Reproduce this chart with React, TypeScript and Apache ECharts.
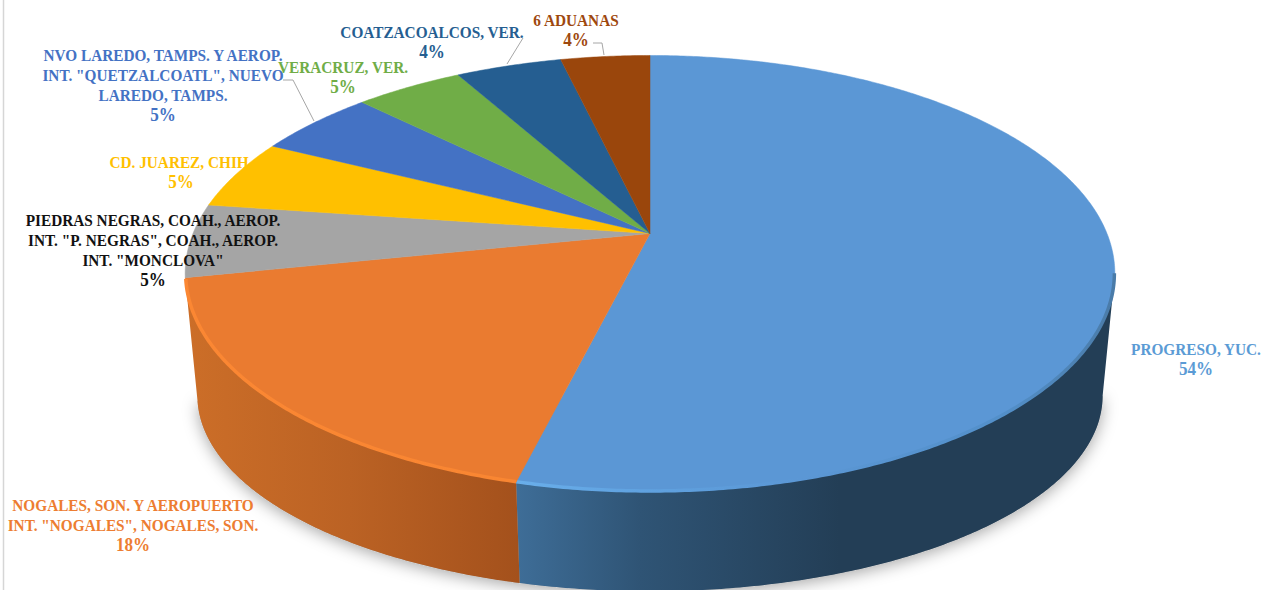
import React, { useEffect, useRef } from "react";
import * as echarts from "echarts";

const categories = [
  "PROGRESO, YUC.",
  'NOGALES, SON. Y AEROPUERTO\nINT. "NOGALES", NOGALES, SON.',
  'PIEDRAS NEGRAS, COAH., AEROP.\nINT. "P. NEGRAS", COAH., AEROP.\nINT. "MONCLOVA"',
  "CD. JUAREZ, CHIH.",
  'NVO LAREDO, TAMPS. Y AEROP.\nINT. "QUETZALCOATL", NUEVO\nLAREDO, TAMPS.',
  "VERACRUZ, VER.",
  "COATZACOALCOS, VER.",
  "6 ADUANAS",
];
const shares = [53.9, 17.9, 5.45, 5.2, 5.0, 4.5, 4.4, 3.7];
const sliceColors = ["#5b97d5", "#ea7b30", "#a5a5a5", "#ffc000", "#4472c4", "#70ad47", "#255e91", "#9a460c"];
const labelColors = ["#5b9bd5", "#ed7d31", "#111111", "#ffc000", "#4472c4", "#70ad47", "#255e91", "#9e480e"];

// centre x and first-line y of each label block
const labelAnchors = [
  [1196, 349], [133, 505], [153, 220], [181, 162], [163, 55], [343, 67], [432, 32], [576, 20],
];
const leaders: Record<number, number[][]> = {
  4: [[283, 80], [293, 80], [314, 121]],
  6: [[523, 38], [507, 64]],
  7: [[593, 43], [602, 43], [604, 55]],
};

const CX = 650;
const TOP = { a: 457, b: 210.6, cy: 233.5 };
const BOTTOM = { a: 445, b: 189, cy: 360 };
const K = 0.183;
const LINE = 20;
const FONT = '700 17px "Liberation Serif", serif';
const PCT_FONT = '700 19px "Liberation Serif", serif';
const TEXT_SQUEEZE = 0.9;
const total = shares.reduce((s, v) => s + v, 0);

type Disc = { a: number; b: number; cy: number };
const project = (deg: number, d: Disc, r = 1): number[] => {
  const t = (deg * Math.PI) / 180;
  const u = Math.sin(t) * r;
  const v = -Math.cos(t) * r;
  const w = 1 - K * v;
  return [CX + (d.a * u) / w, d.cy + (d.b * v) / w];
};
const arc = (s: number, e: number, d: Disc, r = 1): number[][] => {
  const n = Math.max(2, Math.ceil(Math.abs(e - s) * 2));
  const pts: number[][] = [];
  for (let i = 0; i <= n; i++) pts.push(project(s + ((e - s) * i) / n, d, r));
  return pts;
};
const range = (i: number) => {
  const before = shares.slice(0, i).reduce((s, v) => s + v, 0);
  return [(before / total) * 360, ((before + shares[i]) / total) * 360];
};
const grad = (stops: [number, string][], x0 = 186, x1 = 1115) =>
  new echarts.graphic.LinearGradient(
    x0, 0, x1, 0,
    stops.map(([x, color]) => ({ offset: (x - x0) / (x1 - x0), color })),
    true
  );

const VIS_START = 100.5;
const VIS_END = 258;

const sideFill = [
  grad([[518, "#3e6d97"], [640, "#2f5475"], [840, "#233e56"], [1115, "#233e56"]]),
  grad([[186, "#cc6e28"], [350, "#bb6224"], [518, "#a4511c"]]),
];
const rimStroke = [
  grad([[518, "#69aeea"], [640, "#60a2e0"], [800, "#5b97d5"], [1000, "#5390ca"], [1115, "#4a7ba8"]]),
  grad([[186, "#fb8733"], [518, "#f98632"]]),
];

export default function App() {
  const ref = useRef<HTMLDivElement>(null);
  useEffect(() => {
    document.body.style.margin = "0";
    const chart = echarts.init(ref.current!, undefined, { renderer: "svg" });
    const data = shares.map((v) => [v]);
    chart.setOption({
      animation: false,
      backgroundColor: "#ffffff",
      graphic: [
        {
          type: "line",
          shape: { x1: 3.5, y1: 0, x2: 3.5, y2: 590 },
          style: { stroke: "#d6d6d6", lineWidth: 1.5 },
          silent: true,
        },
      ],
      series: [
        {
          type: "custom",
          name: "shadow",
          coordinateSystem: "none",
          silent: true,
          clip: false,
          data: [[total]],
          renderItem: () => ({
            type: "polygon",
            shape: { points: arc(VIS_START, VIS_END, BOTTOM) },
            style: {
              fill: "#aaaaaa",
              shadowBlur: 16,
              shadowColor: "rgba(0,0,0,0.35)",
              shadowOffsetY: 3,
            },
          }),
        },
        {
          type: "custom",
          name: "sides",
          coordinateSystem: "none",
          silent: true,
          clip: false,
          data,
          renderItem: (p: any) => {
            const [s, e] = range(p.dataIndex);
            const from = Math.max(s, VIS_START);
            const to = Math.min(e, VIS_END);
            if (to <= from) return null;
            return {
              type: "polygon",
              shape: { points: [...arc(from, to, TOP), ...arc(to, from, BOTTOM)] },
              style: { fill: sideFill[p.dataIndex] ?? sliceColors[p.dataIndex] },
            };
          },
        },
        {
          type: "custom",
          name: "tops",
          coordinateSystem: "none",
          silent: true,
          clip: false,
          data,
          renderItem: (p: any) => {
            const i = p.dataIndex;
            const [s, e] = range(i);
            const children: any[] = [
              {
                type: "polygon",
                shape: { points: [[CX, TOP.cy], ...arc(s, e, TOP)] },
                style: { fill: sliceColors[i], stroke: sliceColors[i], lineWidth: 0.5 },
              },
            ];
            const from = Math.max(s, VIS_START);
            const to = Math.min(e, VIS_END);
            if (to > from && rimStroke[i]) {
              children.push({
                type: "polyline",
                shape: { points: arc(from, to, TOP, 0.999) },
                style: { fill: "none", stroke: rimStroke[i], lineWidth: 3.5 },
              });
            }
            return { type: "group", children };
          },
        },
        {
          type: "custom",
          name: "labels",
          coordinateSystem: "none",
          silent: true,
          clip: false,
          z: 10,
          data,
          renderItem: (p: any, api: any) => {
            const i = p.dataIndex;
            const names = categories[i].split("\n");
            const lines = [...names, `${Math.round(api.value(0))}%`];
            const [x, y] = labelAnchors[i];
            const children: any[] = lines.map((text, n) => ({
              type: "text",
              x,
              y: y + n * LINE,
              scaleX: TEXT_SQUEEZE,
              style: {
                text,
                x: 0,
                y: 0,
                align: "center",
                verticalAlign: "middle",
                font: n === names.length ? PCT_FONT : FONT,
                fill: labelColors[i],
              },
            }));
            if (leaders[i]) {
              children.push({
                type: "polyline",
                shape: { points: leaders[i] },
                style: { fill: "none", stroke: "#a6a6a6", lineWidth: 1 },
              });
            }
            return { type: "group", children };
          },
        },
      ],
    });
    return () => chart.dispose();
  }, []);
  return (
    <div
      ref={ref}
      style={{ position: "absolute", left: 0, top: 0, width: 1262, height: 590 }}
    />
  );
}
